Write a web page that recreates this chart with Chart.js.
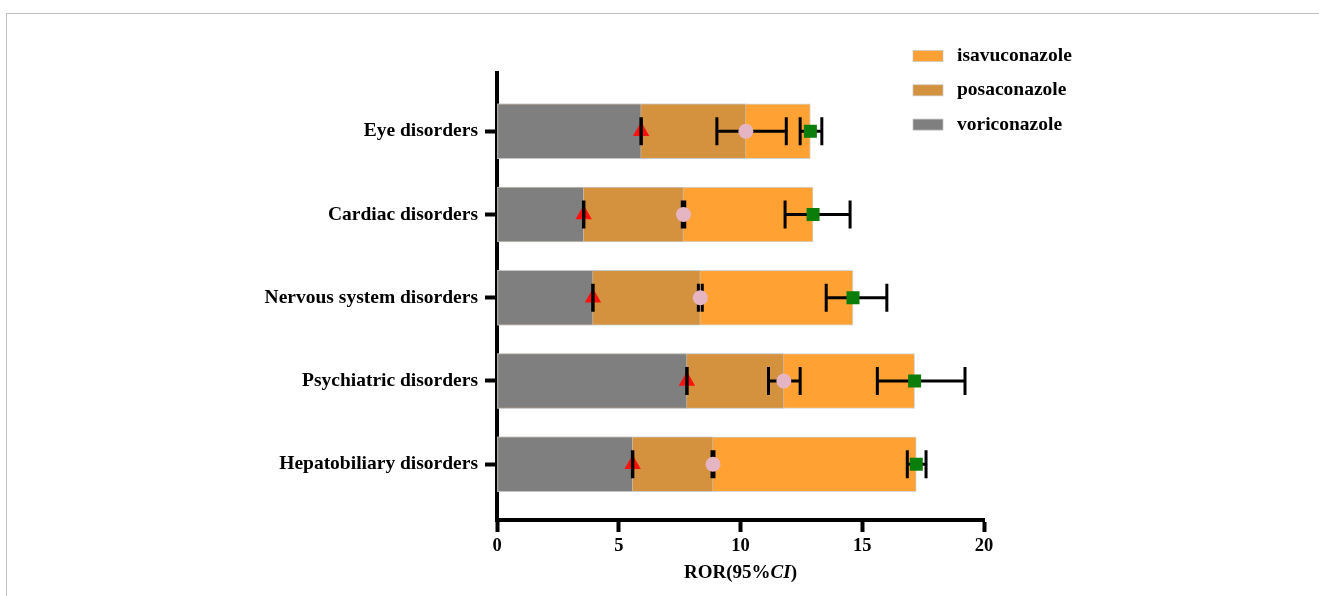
<!DOCTYPE html>
<html><head><meta charset="utf-8">
<script src="https://cdn.jsdelivr.net/npm/chart.js@4.4.1/dist/chart.umd.min.js"></script>
<style>
html,body{margin:0;padding:0;background:#fff;}
#wrap{position:relative;width:1319px;height:596px;overflow:hidden;}
#frame{position:absolute;left:6px;top:13px;right:-5px;bottom:-5px;border-top:1.5px solid #c2c2c2;border-left:1.5px solid #c2c2c2;pointer-events:none;}
canvas{position:absolute;left:0;top:0;}
</style></head><body>
<div id="wrap"><canvas id="c" width="1319" height="596"></canvas><div id="frame"></div></div>
<script>
const categories = ['Eye disorders','Cardiac disorders','Nervous system disorders','Psychiatric disorders','Hepatobiliary disorders'];
const voriRor  = [5.92, 3.56, 3.94, 7.80, 5.57];
const voriLow  = [5.90, 3.54, 3.92, 7.78, 5.55];
const voriHigh = [5.94, 3.58, 3.96, 7.82, 5.59];
const posaRor  = [10.22, 7.66, 8.35, 11.78, 8.87];
const posaLow  = [9.03, 7.61, 8.27, 11.15, 8.83];
const posaHigh = [11.88, 7.71, 8.43, 12.45, 8.91];
const isavRor  = [12.87, 12.98, 14.62, 17.15, 17.22];
const isavLow  = [12.45, 11.83, 13.52, 15.62, 16.85];
const isavHigh = [13.34, 14.50, 16.01, 19.22, 17.62];
const xTicks = [0, 5, 10, 15, 20];
const legendOrder = ['isavuconazole', 'posaconazole', 'voriconazole'];

const FONT = "'Liberation Serif','Times New Roman',serif";
const toXY = arr => arr.map((v, i) => ({x: v, y: i}));

const barCommon = {type: 'bar', grouped: false, barThickness: 55, borderWidth: 1, borderColor: 'rgba(195,195,195,0.7)', borderSkipped: false};

const datasets = [
  Object.assign({label: 'voriconazole', data: toXY(voriRor), backgroundColor: '#7f7f7f', order: 2}, barCommon),
  Object.assign({label: 'posaconazole', data: toXY(posaRor), backgroundColor: '#d4923f', order: 3}, barCommon),
  Object.assign({label: 'isavuconazole', data: toXY(isavRor), backgroundColor: '#ffa233', order: 4}, barCommon),
  {label: 'voriconazole ROR', type: 'scatter', data: toXY(voriRor), pointStyle: 'triangle', pointRadius: 9.5,
   backgroundColor: '#ff1010', borderColor: '#ff1010', borderWidth: 0, order: 0, errLow: voriLow, errHigh: voriHigh, errOnTop: true, errWidth: 2.5},
  {label: 'posaconazole ROR', type: 'scatter', data: toXY(posaRor), pointStyle: 'circle', pointRadius: 7.5,
   backgroundColor: '#e6b5c3', borderColor: '#e6b5c3', borderWidth: 0, order: 0, errLow: posaLow, errHigh: posaHigh},
  {label: 'isavuconazole ROR', type: 'scatter', data: toXY(isavRor), pointStyle: 'rect', pointRadius: 9.2,
   backgroundColor: '#0b7d0b', borderColor: '#0b7d0b', borderWidth: 0, order: 0, errLow: isavLow, errHigh: isavHigh}
];

function drawErr(chart, ds) {
  const {ctx, scales: {x, y}} = chart;
  ctx.save();
  ctx.strokeStyle = '#000';
  ds.errLow.forEach((lo, i) => {
    const hi = ds.errHigh[i];
    const yp = y.getPixelForValue(i);
    const x1 = x.getPixelForValue(lo), x2 = x.getPixelForValue(hi);
    ctx.lineWidth = ds.errWidth || 3;
    ctx.beginPath(); ctx.moveTo(x1, yp); ctx.lineTo(x2, yp); ctx.stroke();
    ctx.beginPath();
    ctx.moveTo(x1, yp - 14); ctx.lineTo(x1, yp + 14);
    ctx.moveTo(x2, yp - 14); ctx.lineTo(x2, yp + 14);
    ctx.stroke();
  });
  ctx.restore();
}

const errorBars = {
  id: 'errorBars',
  beforeDatasetDraw(chart, args) {
    const ds = chart.data.datasets[args.index];
    if (ds.errLow && !ds.errOnTop) drawErr(chart, ds);
  },
  afterDatasetDraw(chart, args) {
    const ds = chart.data.datasets[args.index];
    if (ds.errLow && ds.errOnTop) drawErr(chart, ds);
  }
};

const customLegend = {
  id: 'customLegend',
  afterDraw(chart) {
    const ctx = chart.ctx;
    ctx.save();
    legendOrder.forEach((name, k) => {
      const ds = chart.data.datasets.find(d => d.label === name);
      const yc = 56 + k * 34.3;
      ctx.fillStyle = ds.backgroundColor;
      ctx.fillRect(913, yc - 5.5, 30, 11);
      ctx.strokeStyle = 'rgba(195,195,195,0.7)';
      ctx.lineWidth = 1;
      ctx.strokeRect(913, yc - 5.5, 30, 11);
      ctx.fillStyle = '#000';
      ctx.font = `bold 19.5px ${FONT}`;
      ctx.textAlign = 'left';
      ctx.textBaseline = 'middle';
      ctx.fillText(name, 957, yc);
    });
    ctx.restore();
  }
};

const axisTitle = {
  id: 'axisTitle',
  afterDraw(chart) {
    const ctx = chart.ctx;
    const ca = chart.chartArea;
    const parts = [['ROR(95%', 'bold'], ['CI', 'italic bold'], [')', 'bold']];
    ctx.save();
    ctx.fillStyle = '#000';
    ctx.textBaseline = 'middle';
    ctx.textAlign = 'left';
    let total = 0;
    parts.forEach(p => { ctx.font = `${p[1]} 19px ${FONT}`; total += ctx.measureText(p[0]).width; });
    let xx = (ca.left + ca.right) / 2 - total / 2;
    parts.forEach(p => { ctx.font = `${p[1]} 19px ${FONT}`; ctx.fillText(p[0], xx, 573); xx += ctx.measureText(p[0]).width; });
    ctx.restore();
  }
};

new Chart(document.getElementById('c'), {
  type: 'bar',
  data: {datasets},
  options: {
    indexAxis: 'y',
    responsive: false,
    animation: false,
    events: [],
    layout: {padding: {top: 73, right: 335, bottom: 0, left: 0}},
    plugins: {legend: {display: false}, tooltip: {enabled: false}},
    scales: {
      x: {
        type: 'linear', position: 'bottom', min: 0, max: 20, offset: false,
        afterBuildTicks: a => { a.ticks = xTicks.map(v => ({value: v})); },
        grid: {offset: false, drawOnChartArea: false, drawTicks: true, tickLength: 12, tickWidth: 4, tickColor: '#000'},
        border: {display: true, color: '#000', width: 4},
        ticks: {font: {family: FONT, size: 18.5, weight: 'bold'}, color: '#000', padding: 3, maxRotation: 0},
        afterFit: s => { s.height = 76; }
      },
      y: {
        type: 'linear', position: 'left', min: -0.7, max: 4.67, reverse: true, offset: false,
        afterBuildTicks: a => { a.ticks = categories.map((c, i) => ({value: i})); },
        grid: {offset: false, drawOnChartArea: false, drawTicks: true, tickLength: 12, tickWidth: 4, tickColor: '#000'},
        border: {display: true, color: '#000', width: 4},
        ticks: {font: {family: FONT, size: 19.5, weight: 'bold'}, color: '#000', padding: 7,
                callback: v => categories[v]},
        afterFit: s => { s.width = 497; }
      }
    }
  },
  plugins: [errorBars, customLegend, axisTitle]
});
</script>
</body></html>
